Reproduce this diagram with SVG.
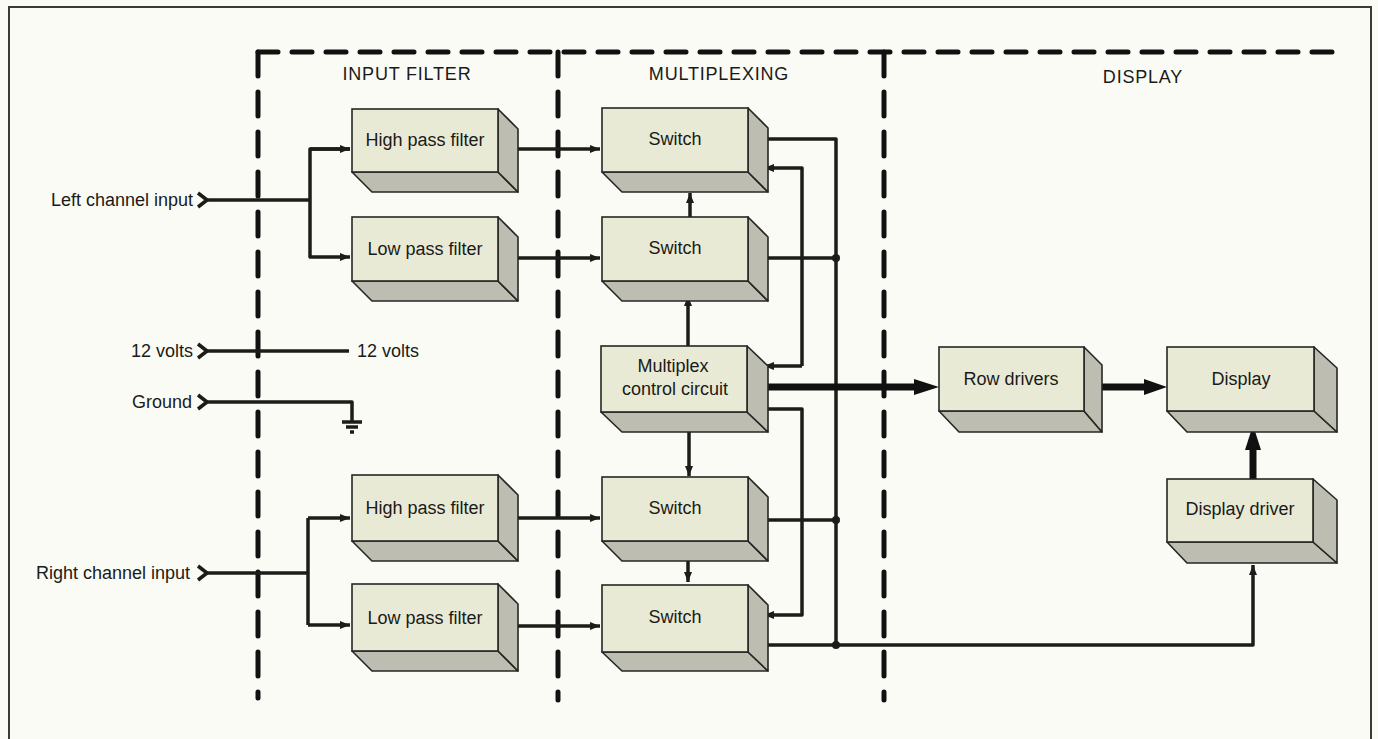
<svg xmlns="http://www.w3.org/2000/svg" width="1378" height="739" viewBox="0 0 1378 739">
<defs>
<style>
.frame{fill:none;stroke:#3a3a36;stroke-width:2}
.dash{fill:none;stroke:#111;stroke-width:5;stroke-linecap:round}
.dh{stroke-dasharray:20 14}
.dv{stroke-dasharray:24 16}
.front{fill:#e9ead5;stroke:#262624;stroke-width:1.6}
.shade{fill:#bdbeb1;stroke:#262624;stroke-width:1.6;stroke-linejoin:round}
.w{fill:none;stroke:#1c1c1a;stroke-width:3.5;stroke-linejoin:round}
.thick{fill:none;stroke:#111;stroke-width:7}
.t{font-family:"Liberation Sans",Arial,sans-serif;font-size:18px;fill:#1a1a18}
.hd{font-family:"Liberation Sans",Arial,sans-serif;font-size:18px;fill:#1a1a18;letter-spacing:0.8px}
.c{text-anchor:middle}
.e{text-anchor:end}
.dot{fill:#1c1c1a}
</style>
<marker id="a" viewBox="0 0 10 8" refX="10" refY="4" markerWidth="11" markerHeight="8" markerUnits="userSpaceOnUse" orient="auto">
<path d="M0,0 L10,4 L0,8 z" fill="#1c1c1a"/>
</marker>
</defs>
<rect x="0" y="0" width="1378" height="739" fill="#fbfbf5"/>
<g id="frame">
<path class="frame" d="M9,739 V7 H1371 V739"/>
</g>
<g id="regions">
<path class="dash dh" d="M258,52 H1340"/>
<path class="dash dv" d="M258,52 V698"/>
<path class="dash dv" d="M558,52 V700"/>
<path class="dash dv" d="M884,52 V700"/>
<text class="hd c" x="407" y="80">INPUT FILTER</text>
<text class="hd c" x="719" y="80">MULTIPLEXING</text>
<text class="hd c" x="1143" y="83">DISPLAY</text>
</g>
<g id="connectors">
<!-- left channel -->
<path class="w" d="M198,193 L207,200 L198,207"/>
<path class="w" d="M207,200 H310"/>
<path class="w" d="M350,149 H310 V257 H350" marker-end="url(#a)"/>
<path class="w" d="M310,149 H350" marker-end="url(#a)"/>
<!-- 12 volts -->
<path class="w" d="M198,344 L207,351 L198,358"/>
<path class="w" d="M207,351 H349"/>
<!-- ground -->
<path class="w" d="M198,395 L207,402 L198,409"/>
<path class="w" d="M207,402 H352 V421"/>
<path class="w" d="M342,422 H362 M346,427 H358 M350,432 H354" stroke-width="2.5"/>
<!-- right channel -->
<path class="w" d="M198,566 L207,573 L198,580"/>
<path class="w" d="M207,573 H308"/>
<path class="w" d="M308,518 V625"/>
<path class="w" d="M308,518 H350" marker-end="url(#a)"/>
<path class="w" d="M308,625 H350" marker-end="url(#a)"/>
<!-- filters to switches -->
<path class="w" d="M508,149 H600" marker-end="url(#a)"/>
<path class="w" d="M508,258 H600" marker-end="url(#a)"/>
<path class="w" d="M508,518 H600" marker-end="url(#a)"/>
<path class="w" d="M508,626 H600" marker-end="url(#a)"/>
<!-- vertical control arrows -->
<path class="w" d="M690,217 V193" marker-end="url(#a)"/>
<path class="w" d="M688,346 V296" marker-end="url(#a)"/>
<path class="w" d="M689,422 V476" marker-end="url(#a)"/>
<path class="w" d="M688,550 V582" marker-end="url(#a)"/>
<!-- output bus -->
<path class="w" d="M758,139 H836 V645"/>
<path class="w" d="M760,258 H836"/>
<path class="w" d="M760,520 H836"/>
<path class="w" d="M760,645 H1253 V565" marker-end="url(#a)"/>
<circle class="dot" cx="836" cy="258" r="4"/>
<circle class="dot" cx="836" cy="520" r="4"/>
<circle class="dot" cx="836" cy="645" r="4"/>
<!-- control feedback lines -->
<path class="w" d="M802,366 H764" marker-end="url(#a)"/>
<path class="w" d="M802,366 V168 H764" marker-end="url(#a)"/>
<path class="w" d="M760,409 H802 V615 H764" marker-end="url(#a)"/>
<!-- thick buses -->
<path class="thick" d="M760,387 H916"/>
<polygon points="939,387 914,379 914,395" fill="#111"/>
<path class="thick" d="M1095,387 H1146"/>
<polygon points="1167,387 1144,379 1144,395" fill="#111"/>
<path class="thick" d="M1253,479 V448"/>
<polygon points="1253,425 1245,450 1261,450" fill="#111"/>
</g>
<g id="labels">
<text class="t e" x="193" y="206">Left channel input</text>
<text class="t e" x="193" y="357">12 volts</text>
<text class="t" x="357" y="357">12 volts</text>
<text class="t e" x="192" y="408">Ground</text>
<text class="t e" x="190" y="579">Right channel input</text>
</g>
<g id="hpf-left">
<polygon class="shade" points="352,172 498,172 518,192 372,192"/>
<polygon class="shade" points="498,109 518,129 518,192 498,172"/>
<rect class="front" x="352" y="109" width="146" height="63"/>
<text class="t c" x="425" y="146">High pass filter</text>
</g>
<g id="lpf-left">
<polygon class="shade" points="352,281 498,281 518,301 372,301"/>
<polygon class="shade" points="498,217 518,237 518,301 498,281"/>
<rect class="front" x="352" y="217" width="146" height="64"/>
<text class="t c" x="425" y="255">Low pass filter</text>
</g>
<g id="hpf-right">
<polygon class="shade" points="352,541 498,541 518,561 372,561"/>
<polygon class="shade" points="498,475 518,495 518,561 498,541"/>
<rect class="front" x="352" y="475" width="146" height="66"/>
<text class="t c" x="425" y="514">High pass filter</text>
</g>
<g id="lpf-right">
<polygon class="shade" points="352,651 498,651 518,671 372,671"/>
<polygon class="shade" points="498,584 518,604 518,671 498,651"/>
<rect class="front" x="352" y="584" width="146" height="67"/>
<text class="t c" x="425" y="624">Low pass filter</text>
</g>
<g id="switch1">
<polygon class="shade" points="602,172 748,172 768,192 622,192"/>
<polygon class="shade" points="748,108 768,128 768,192 748,172"/>
<rect class="front" x="602" y="108" width="146" height="64"/>
<text class="t c" x="675" y="145">Switch</text>
</g>
<g id="switch2">
<polygon class="shade" points="602,281 748,281 768,301 622,301"/>
<polygon class="shade" points="748,217 768,237 768,301 748,281"/>
<rect class="front" x="602" y="217" width="146" height="64"/>
<text class="t c" x="675" y="254">Switch</text>
</g>
<g id="multiplex">
<polygon class="shade" points="601,412 747,412 768,432 622,432"/>
<polygon class="shade" points="747,346 768,366 768,432 747,412"/>
<rect class="front" x="601" y="346" width="146" height="66"/>
<text class="t c" x="673" y="372">Multiplex</text>
<text class="t c" x="675" y="395">control circuit</text>
</g>
<g id="switch3">
<polygon class="shade" points="602,541 748,541 768,561 622,561"/>
<polygon class="shade" points="748,477 768,497 768,561 748,541"/>
<rect class="front" x="602" y="477" width="146" height="64"/>
<text class="t c" x="675" y="514">Switch</text>
</g>
<g id="switch4">
<polygon class="shade" points="602,652 748,652 768,671 622,671"/>
<polygon class="shade" points="748,585 768,605 768,671 748,652"/>
<rect class="front" x="602" y="585" width="146" height="67"/>
<text class="t c" x="675" y="623">Switch</text>
</g>
<g id="row-drivers">
<polygon class="shade" points="939,411 1084,411 1102,432 959,432"/>
<polygon class="shade" points="1084,347 1102,365 1102,432 1084,411"/>
<rect class="front" x="939" y="347" width="145" height="64"/>
<text class="t c" x="1011" y="385">Row drivers</text>
</g>
<g id="display">
<polygon class="shade" points="1167,411 1314,411 1337,432 1187,432"/>
<polygon class="shade" points="1314,347 1337,368 1337,432 1314,411"/>
<rect class="front" x="1167" y="347" width="147" height="64"/>
<text class="t c" x="1241" y="385">Display</text>
</g>
<g id="display-driver">
<polygon class="shade" points="1167,542 1313,542 1337,563 1187,563"/>
<polygon class="shade" points="1313,479 1337,500 1337,563 1313,542"/>
<rect class="front" x="1167" y="479" width="146" height="63"/>
<text class="t c" x="1240" y="515">Display driver</text>
</g>
</svg>
